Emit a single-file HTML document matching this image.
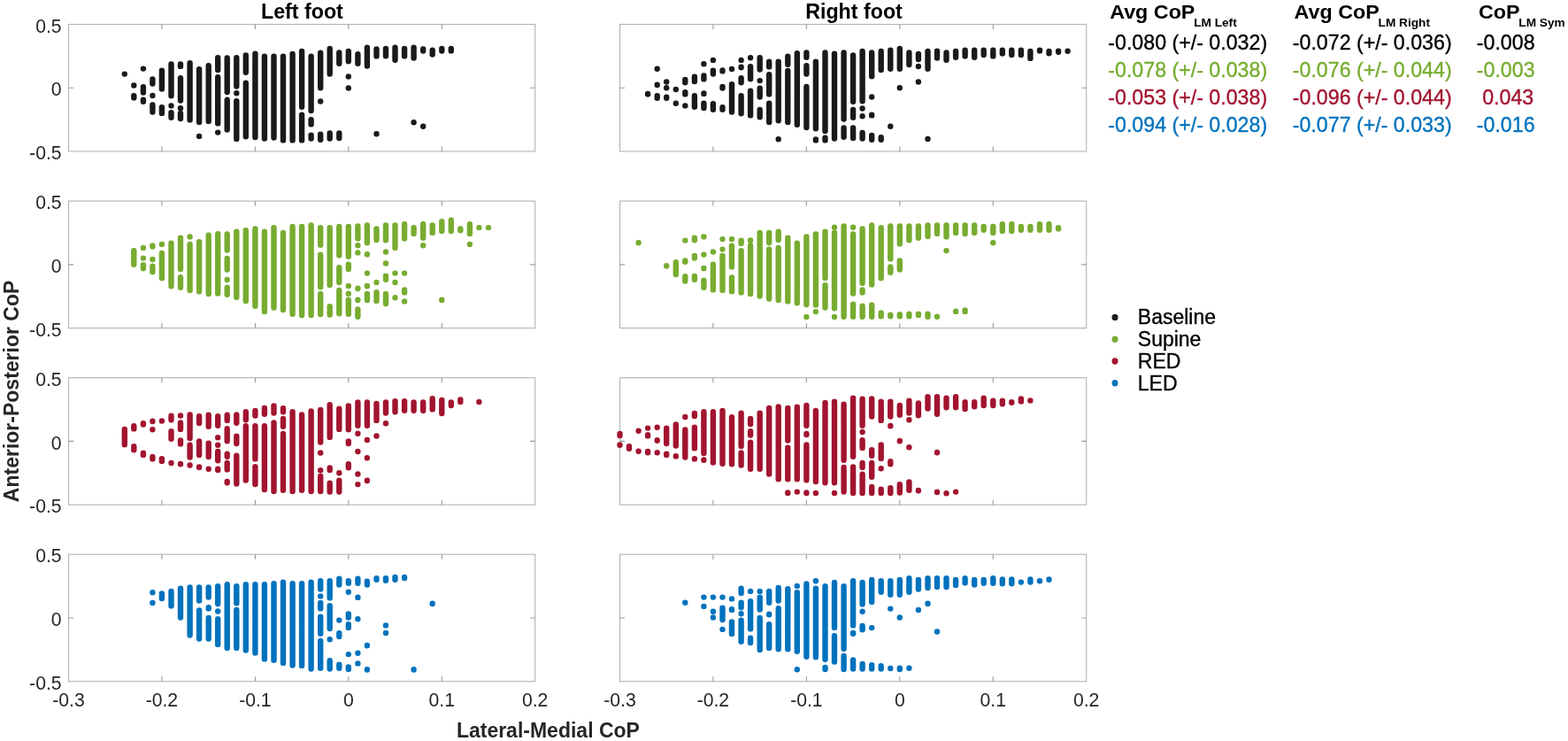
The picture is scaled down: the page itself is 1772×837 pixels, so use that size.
<!DOCTYPE html><html><head><meta charset="utf-8"><title>CoP scatter</title><style>html,body{margin:0;padding:0;background:#fff;overflow:hidden}svg{display:block}</style></head><body><svg width="1772" height="837" viewBox="0 0 1772 837" font-family="'Liberation Sans', Arial, Helvetica, sans-serif">
<rect width="1772" height="837" fill="#fff"/>
<rect x="77.5" y="27.5" width="527.2" height="143.5" fill="none" stroke="#b3b3b3" stroke-width="1.1"/>
<path d="M182.9 171.0v-5.5M182.9 27.5v5.5M288.4 171.0v-5.5M288.4 27.5v5.5M393.8 171.0v-5.5M393.8 27.5v5.5M499.3 171.0v-5.5M499.3 27.5v5.5M77.5 99.2h5.5M604.7 99.2h-5.5" stroke="#999" stroke-width="1.1" fill="none"/>
<rect x="700.5" y="27.5" width="527.2" height="143.5" fill="none" stroke="#b3b3b3" stroke-width="1.1"/>
<path d="M805.9 171.0v-5.5M805.9 27.5v5.5M911.4 171.0v-5.5M911.4 27.5v5.5M1016.8 171.0v-5.5M1016.8 27.5v5.5M1122.3 171.0v-5.5M1122.3 27.5v5.5M700.5 99.2h5.5M1227.7 99.2h-5.5" stroke="#999" stroke-width="1.1" fill="none"/>
<rect x="77.5" y="227.1" width="527.2" height="143.5" fill="none" stroke="#b3b3b3" stroke-width="1.1"/>
<path d="M182.9 370.6v-5.5M182.9 227.1v5.5M288.4 370.6v-5.5M288.4 227.1v5.5M393.8 370.6v-5.5M393.8 227.1v5.5M499.3 370.6v-5.5M499.3 227.1v5.5M77.5 298.9h5.5M604.7 298.9h-5.5" stroke="#999" stroke-width="1.1" fill="none"/>
<rect x="700.5" y="227.1" width="527.2" height="143.5" fill="none" stroke="#b3b3b3" stroke-width="1.1"/>
<path d="M805.9 370.6v-5.5M805.9 227.1v5.5M911.4 370.6v-5.5M911.4 227.1v5.5M1016.8 370.6v-5.5M1016.8 227.1v5.5M1122.3 370.6v-5.5M1122.3 227.1v5.5M700.5 298.9h5.5M1227.7 298.9h-5.5" stroke="#999" stroke-width="1.1" fill="none"/>
<rect x="77.5" y="426.7" width="527.2" height="143.5" fill="none" stroke="#b3b3b3" stroke-width="1.1"/>
<path d="M182.9 570.2v-5.5M182.9 426.7v5.5M288.4 570.2v-5.5M288.4 426.7v5.5M393.8 570.2v-5.5M393.8 426.7v5.5M499.3 570.2v-5.5M499.3 426.7v5.5M77.5 498.4h5.5M604.7 498.4h-5.5" stroke="#999" stroke-width="1.1" fill="none"/>
<rect x="700.5" y="426.7" width="527.2" height="143.5" fill="none" stroke="#b3b3b3" stroke-width="1.1"/>
<path d="M805.9 570.2v-5.5M805.9 426.7v5.5M911.4 570.2v-5.5M911.4 426.7v5.5M1016.8 570.2v-5.5M1016.8 426.7v5.5M1122.3 570.2v-5.5M1122.3 426.7v5.5M700.5 498.4h5.5M1227.7 498.4h-5.5" stroke="#999" stroke-width="1.1" fill="none"/>
<rect x="77.5" y="626.2" width="527.2" height="143.5" fill="none" stroke="#b3b3b3" stroke-width="1.1"/>
<path d="M182.9 769.7v-5.5M182.9 626.2v5.5M288.4 769.7v-5.5M288.4 626.2v5.5M393.8 769.7v-5.5M393.8 626.2v5.5M499.3 769.7v-5.5M499.3 626.2v5.5M77.5 698.0h5.5M604.7 698.0h-5.5" stroke="#999" stroke-width="1.1" fill="none"/>
<rect x="700.5" y="626.2" width="527.2" height="143.5" fill="none" stroke="#b3b3b3" stroke-width="1.1"/>
<path d="M805.9 769.7v-5.5M805.9 626.2v5.5M911.4 769.7v-5.5M911.4 626.2v5.5M1016.8 769.7v-5.5M1016.8 626.2v5.5M1122.3 769.7v-5.5M1122.3 626.2v5.5M700.5 698.0h5.5M1227.7 698.0h-5.5" stroke="#999" stroke-width="1.1" fill="none"/>
<path d="M140.8 83.6v0.01M151.3 96.5v0.01M151.3 108.2V110.4M161.9 77.6v0.01M161.9 98.3V104.6M161.9 112.8V114.8M172.4 89.5V94.6M172.4 108.0v0.01M172.4 118.5V126.5M182.9 79.7V100.5M182.9 121.2V127.9M193.5 72.5V108.2M193.5 119.4v0.01M193.5 127.1V132.7M204.0 72.5V74.9M204.0 88.1V113.6M204.0 122.3v0.01M204.0 127.9V134.0M214.6 71.1V135.4M225.1 78.2V138.1M225.1 153.9v0.01M235.7 74.1V136.9M246.2 65.2V79.0M246.2 87.2V139.4M246.2 149.6v0.01M256.7 65.4V104.1M256.7 112.8V146.5M267.3 65.2V97.5M267.3 105.3v0.01M267.3 114.1V156.9M277.8 62.5V81.7M277.8 93.8V154.2M288.4 60.7V155.1M298.9 63.6V156.6M309.5 63.6V155.5M320.0 63.6V158.4M330.6 60.9V158.4M341.1 58.0V120.7M341.1 129.7V158.4M351.6 63.6V125.0M351.6 135.2V140.4M351.6 152.6V156.6M362.2 59.8V99.3M362.2 114.4V114.5M362.2 151.7V157.8M372.7 55.0V83.5M372.7 150.4V156.6M383.3 59.4V71.8M383.3 150.4V156.0M393.8 58.0V69.2M393.8 86.5v0.01M393.8 99.4V99.6M404.4 61.2V71.8M414.9 53.7V74.5M425.5 55.5V63.4M425.5 151.3v0.01M436.0 55.0V63.3M446.5 53.7V67.7M457.1 55.0V63.4M467.6 53.7V65.6M467.6 138.2v0.01M478.2 55.5V57.5M478.2 142.7v0.01M488.7 56.8V61.6M499.3 55.0V57.5M509.8 55.0V57.5" stroke="#1a1a1a" stroke-width="6.4" stroke-linecap="round" fill="none"/>
<path d="M732.1 106.0V106.4M742.7 77.8v0.01M742.7 95.6V96.0M742.7 108.2V110.7M753.2 92.5v0.01M753.2 99.2V99.3M753.2 109.6V110.7M763.8 101.0v0.01M763.8 116.7v0.01M774.3 89.9V93.3M774.3 104.2V106.4M774.3 119.4v0.01M784.9 86.8V92.1M784.9 108.2V120.7M795.4 72.3v0.01M795.4 85.4V89.4M795.4 105.5V105.9M795.4 116.8V122.0M805.9 67.9v0.01M805.9 79.7V83.5M805.9 117.1V123.8M816.5 79.5V80.4M816.5 98.0V99.6M816.5 121.2V123.8M827.0 78.0v0.01M827.0 95.3V126.5M837.6 67.9v0.01M837.6 75.6V76.3M837.6 88.1V93.3M837.6 108.2V128.3M848.1 65.2v0.01M848.1 75.2V89.2M848.1 102.8V130.4M858.7 65.2V78.5M858.7 91.1v0.01M858.7 99.7V109.5M858.7 123.9V132.2M869.2 69.7V75.4M869.2 84.2V106.4M869.2 116.8V138.1M879.7 69.7V136.3M879.7 157.2v0.01M890.3 63.6V72.7M890.3 80.0V138.1M900.8 60.3V140.8M911.4 59.4V64.7M911.4 74.1V83.5M911.4 98.0V144.0M921.9 69.7V145.3M921.9 157.4V158.4M932.5 59.4V148.0M932.5 155.8V158.4M943.0 60.7V156.6M953.6 59.4V134.5M953.6 144.5V154.8M964.1 62.5V114.8M964.1 123.9V132.7M964.1 144.5V156.0M974.6 58.0V114.3M974.6 122.5v0.01M974.6 131.2v0.01M974.6 149.9V156.6M985.2 59.4V86.2M985.2 109.5v0.01M985.2 129.7V130.4M985.2 152.9V157.8M995.7 58.0V79.0M995.7 155.3V157.8M1006.3 56.8V77.8M1006.3 142.7v0.01M1016.8 55.0V77.8M1016.8 99.2V99.3M1027.4 59.4V73.1M1037.9 60.9V67.0M1037.9 75.0v0.01M1037.9 92.5v0.01M1048.5 58.0V77.8M1048.5 157.0v0.01M1059.0 57.6V65.6M1069.5 59.4V67.7M1080.1 58.0V64.7M1090.6 56.8V63.4M1101.2 56.8V64.7M1111.7 56.8V62.0M1122.3 56.8V63.4M1132.8 56.8V60.6M1143.3 56.8V62.0M1153.9 56.8V62.0M1164.4 58.0V65.9M1175.0 56.8V57.5M1185.5 58.0V60.2M1196.1 57.6V58.8M1206.6 57.8v0.01" stroke="#1a1a1a" stroke-width="6.4" stroke-linecap="round" fill="none"/>
<path d="M151.3 283.1V298.7M161.9 280.0v0.01M161.9 291.6v0.01M161.9 299.2V303.2M172.4 277.4V278.5M172.4 293.0v0.01M172.4 300.6V307.3M182.9 275.9V276.0M182.9 285.9V314.3M193.5 274.7V323.3M204.0 268.8V304.1M204.0 313.2V324.7M214.6 267.4v0.01M214.6 275.9V327.9M225.1 273.2V329.2M235.7 265.7V331.9M246.2 264.3V331.5M256.7 264.5V282.6M256.7 292.0V304.6M256.7 316.0v0.01M256.7 324.8V332.7M267.3 261.6V335.8M277.8 260.3V339.9M288.4 258.5V345.8M298.9 261.6V351.9M309.5 257.3V347.6M320.0 263.0V350.1M330.6 255.9V354.8M341.1 255.9V356.0M351.6 254.4V356.0M362.2 257.3V276.7M362.2 287.7V324.3M362.2 332.0V355.1M372.7 257.3V322.0M372.7 346.3V355.5M383.3 255.9V288.5M383.3 302.1V319.0M383.3 327.9V354.2M393.8 255.9V289.8M393.8 298.8V304.1M393.8 323.0v0.01M393.8 331.7v0.01M393.8 338.6V354.8M404.4 255.5V269.5M404.4 277.2v0.01M404.4 285.4V285.6M404.4 325.7V326.1M404.4 338.6V339.0M404.4 349.4V357.8M414.9 254.4V274.2M414.9 287.2V287.4M414.9 308.6v0.01M414.9 323.0V323.3M414.9 332.0V339.0M425.5 258.5V271.0M425.5 318.9V319.0M425.5 330.2V339.9M436.0 254.4V271.3M436.0 284.5v0.01M436.0 297.4V297.5M436.0 311.7V315.7M436.0 332.0V343.0M446.5 254.4V279.9M446.5 308.6v0.01M446.5 318.9V319.0M446.5 336.1V336.3M457.1 253.2V269.5M457.1 308.6v0.01M457.1 327.5V330.4M457.1 340.4v0.01M467.6 257.3V264.1M478.2 253.2V268.8M478.2 277.3v0.01M488.7 254.4V262.9M499.3 250.1V261.1M499.3 338.6V339.0M509.8 248.7V261.1M520.3 258.5V260.2M530.9 253.2V264.1M530.9 275.9V276.0M541.4 257.1v0.01M552.0 257.1v0.01" stroke="#77ac30" stroke-width="6.4" stroke-linecap="round" fill="none"/>
<path d="M721.6 274.1V274.2M753.2 300.3V300.5M763.8 296.2V310.0M774.3 271.6v0.01M774.3 294.4V295.7M774.3 312.3V317.5M784.9 268.8V271.3M784.9 289.0V291.6M784.9 311.9V315.7M795.4 267.4v0.01M795.4 287.6v0.01M795.4 303.0V303.2M795.4 316.8V324.7M805.9 284.5v0.01M805.9 298.8V327.4M816.5 270.1v0.01M816.5 281.6v0.01M816.5 289.0V327.9M827.0 270.1v0.01M827.0 277.7V301.4M827.0 313.5V329.2M837.6 271.6V274.9M837.6 283.1V330.4M848.1 271.5v0.01M848.1 277.4V331.9M858.7 263.0V334.5M869.2 263.0V274.2M869.2 281.8V337.6M879.7 261.6V271.0M879.7 280.0V339.0M890.3 268.8V340.4M900.8 274.7V342.2M911.4 267.5V344.0M911.4 357.9v0.01M921.9 264.5V344.4M921.9 352.1v0.01M932.5 261.6V313.9M932.5 322.1V347.6M943.0 256.8v0.01M943.0 263.0V348.3M943.0 357.9v0.01M953.6 255.5V357.8M964.1 256.8v0.01M964.1 264.5V331.5M964.1 343.6V357.8M974.6 258.5V319.7M974.6 327.5V330.4M974.6 345.8V357.8M985.2 254.4V321.5M985.2 344.5V357.8M995.7 257.3V314.3M995.7 353.5V357.3M1006.3 255.5V292.4M1006.3 301.5V307.7M1006.3 355.8V357.3M1016.8 255.5V275.4M1016.8 294.4V304.6M1016.8 355.3V357.3M1027.4 255.5V271.3M1027.4 354.7V357.3M1037.9 255.5V268.8M1037.9 354.7V356.0M1048.5 254.4V267.0M1048.5 354.7V357.8M1059.0 254.4V264.1M1059.0 357.6V357.8M1069.5 254.4V267.4M1069.5 283.1v0.01M1080.1 254.4V262.9M1080.1 351.7V351.9M1090.6 254.4V264.1M1090.6 350.4V351.9M1101.2 254.4V262.9M1111.7 255.9V259.8M1122.3 255.9V262.9M1122.3 274.1V274.2M1132.8 253.2V261.1M1143.3 253.2V261.1M1153.9 255.9V259.8M1164.4 255.9V259.8M1175.0 253.2V259.8M1185.5 253.2V259.8M1196.1 257.3V258.4" stroke="#77ac30" stroke-width="6.4" stroke-linecap="round" fill="none"/>
<path d="M140.8 484.9V502.3M151.3 481.3V484.4M151.3 504.2V508.2M161.9 478.2V479.5M161.9 511.7V513.9M172.4 475.6V476.0M172.4 485.3v0.01M172.4 515.9V518.4M182.9 475.5v0.01M182.9 518.2V521.1M193.5 469.8V474.2M193.5 487.2V495.7M193.5 523.0v0.01M204.0 469.5v0.01M204.0 477.4V484.9M204.0 497.4V501.4M204.0 523.9V524.3M214.6 468.4V495.1M214.6 502.8V516.6M214.6 525.4V525.6M225.1 470.2V478.1M225.1 498.5V513.9M225.1 527.5V527.9M235.7 468.8V481.7M235.7 500.6V516.1M235.7 529.7v0.01M246.2 470.2V480.8M246.2 494.3v0.01M246.2 502.8v0.01M246.2 510.0V520.2M246.2 529.7V531.0M256.7 468.8V474.9M256.7 484.2V498.2M256.7 512.8V515.7M256.7 523.0V530.4M256.7 544.0V545.3M267.3 468.4V477.8M267.3 492.6V501.0M267.3 514.6V546.5M277.8 465.2V474.2M277.8 481.3V542.6M288.4 463.9V469.5M288.4 481.3V518.4M288.4 527.1V547.1M298.9 460.9V467.7M298.9 481.3V553.0M309.5 458.5V466.5M309.5 477.4V555.1M320.0 461.2V465.2M320.0 472.9V481.7M320.0 489.9V553.7M330.6 465.2V555.1M341.1 468.4V553.7M351.6 464.5V555.1M362.2 463.0V499.6M362.2 511.5v0.01M362.2 531.2v0.01M362.2 537.9V555.1M372.7 457.3V493.9M372.7 528.4V531.0M372.7 545.8V555.5M383.3 461.6V484.9M383.3 534.2v0.01M383.3 542.7V555.5M393.8 458.5V485.3M393.8 498.5V501.0M393.8 524.3V528.3M404.4 454.4V480.8M404.4 489.8v0.01M404.4 510.0v0.01M404.4 535.5v0.01M404.4 547.1v0.01M414.9 454.4V480.8M414.9 497.0v0.01M414.9 517.1V517.2M414.9 542.7V543.0M425.5 455.9V474.9M425.5 492.5v0.01M436.0 454.4V466.5M436.0 478.2v0.01M446.5 453.2V465.2M457.1 453.2V463.8M467.6 454.4V463.8M478.2 454.4V463.8M488.7 450.1V462.4M499.3 451.9V467.0M509.8 454.4V458.1M520.3 451.4V453.9M541.4 454.0v0.01" stroke="#a2142f" stroke-width="6.4" stroke-linecap="round" fill="none"/>
<path d="M700.5 489.9V492.1M700.5 502.4V502.8M711.0 504.2V506.8M721.6 486.7v0.01M721.6 509.7v0.01M732.1 483.6v0.01M732.1 491.3V492.4M732.1 510.0V511.3M742.7 482.7v0.01M742.7 497.1V497.8M742.7 511.3v0.01M753.2 483.6V501.0M753.2 512.8V513.9M763.8 479.5V503.6M763.8 515.3V515.4M774.3 471.0v0.01M774.3 485.4V516.6M784.9 467.0V470.1M784.9 482.7V506.4M784.9 518.2V518.4M795.4 465.2V512.1M795.4 519.4V519.7M805.9 465.2V522.5M816.5 463.9V523.8M827.0 471.1V524.3M837.6 466.6V504.1M837.6 511.4V525.6M848.1 472.9V479.0M848.1 487.2V491.6M848.1 499.7V529.7M858.7 466.6V529.7M869.2 460.9V535.4M879.7 459.4V541.2M890.3 460.9V497.5M890.3 505.7V541.2M890.3 556.5V556.9M900.8 459.8V541.2M900.8 555.6v0.01M911.4 458.0V480.8M911.4 489.9V491.0M911.4 502.4V542.2M911.4 556.5V556.9M921.9 463.9V544.0M921.9 557.0v0.01M932.5 455.0V545.3M943.0 453.7V545.3M943.0 557.0v0.01M953.6 456.8V519.7M953.6 527.9V555.5M964.1 449.6V515.7M964.1 527.5V556.9M974.6 450.8V480.8M974.6 488.0v0.01M974.6 497.1V505.9M974.6 523.0V527.9M974.6 535.6V556.9M985.2 450.5V470.6M985.2 508.2V514.8M985.2 523.0V538.7M985.2 549.9V556.9M995.7 453.7V474.9M995.7 502.4V517.9M995.7 529.2v0.01M995.7 552.6V556.9M1006.3 453.7V470.6M1006.3 480.9V481.3M1006.3 521.2V524.3M1006.3 551.1V556.9M1016.8 458.0V468.8M1016.8 498.0V498.2M1016.8 547.2V556.6M1027.4 452.6V466.5M1027.4 474.1V474.2M1027.4 505.1V505.3M1027.4 544.5V553.7M1037.9 455.5V469.2M1037.9 554.0V554.2M1048.5 448.3V461.6M1059.0 448.3V467.7M1059.0 511.0V511.3M1059.0 555.8V556.0M1069.5 449.6V460.2M1069.5 557.1V557.3M1080.1 448.3V460.2M1080.1 555.6v0.01M1090.6 454.1V462.0M1101.2 454.1V459.3M1111.7 449.6V458.1M1122.3 452.6V458.1M1132.8 452.6V456.3M1143.3 454.1V454.8M1153.9 450.5V453.4M1164.4 452.4v0.01" stroke="#a2142f" stroke-width="6.4" stroke-linecap="round" fill="none"/>
<path d="M172.4 669.2v0.01M172.4 680.9v0.01M182.9 670.5V676.0M193.5 668.0V684.4M204.0 664.8V697.5M214.6 663.4V717.5M225.1 663.4V678.5M225.1 689.5V721.5M235.7 663.4V674.5M235.7 686.3V687.4M235.7 698.0V721.5M246.2 662.1V682.1M246.2 690.5v0.01M246.2 699.2V727.9M256.7 660.3V731.9M267.3 662.1V681.3M267.3 689.0V731.9M277.8 660.3V734.5M288.4 660.3V737.6M298.9 660.3V744.4M309.5 659.1V745.8M320.0 657.6V748.9M330.6 659.1V751.6M341.1 659.1V751.9M351.6 657.6V755.5M362.2 656.2V665.6M362.2 673.4v0.01M362.2 680.9V687.4M362.2 696.7V715.7M362.2 723.9V754.8M372.7 656.2V675.4M372.7 684.2V710.0M372.7 722.2v0.01M372.7 746.3V755.5M383.3 653.7V660.6M383.3 700.6v0.01M383.3 715.3V719.0M383.3 750.8V754.8M393.8 656.2V658.8M393.8 668.8v0.01M393.8 693.5V697.5M393.8 705.1V708.9M393.8 739.1v0.01M393.8 753.5V756.0M404.4 653.7V658.8M404.4 674.7V674.9M404.4 699.2V699.3M404.4 737.7v0.01M404.4 749.4v0.01M414.9 656.8V660.6M414.9 728.9V729.2M414.9 756.2V756.6M425.5 653.2V654.8M436.0 653.2V655.7M436.0 706.4v0.01M436.0 714.9v0.01M446.5 651.9V654.8M457.1 651.9V653.0M467.6 756.2V756.6M488.7 681.8V682.1" stroke="#0072bd" stroke-width="6.4" stroke-linecap="round" fill="none"/>
<path d="M774.3 680.6V680.8M795.4 674.6v0.01M795.4 684.9v0.01M805.9 674.6v0.01M805.9 690.7v0.01M805.9 697.4V697.5M816.5 674.6v0.01M816.5 686.7V700.0M816.5 710.9v0.01M827.0 676.4v0.01M827.0 688.1V688.9M827.0 702.4V716.1M837.6 664.8V670.1M837.6 680.6V686.2M837.6 693.3v0.01M837.6 700.6V724.7M848.1 667.9v0.01M848.1 679.1V710.4M848.1 720.7V726.1M858.7 667.9v0.01M858.7 674.7V688.5M858.7 698.0V734.0M869.2 668.0V680.8M869.2 693.8V694.2M869.2 705.1V731.9M879.7 663.9V678.5M879.7 687.2V733.3M890.3 665.2V733.3M900.8 661.9v0.01M900.8 669.3V735.8M900.8 756.3v0.01M911.4 659.4V741.7M921.9 656.2V656.3M921.9 664.8V742.2M932.5 662.1V744.7M932.5 754.0V756.0M943.0 658.0V708.9M943.0 718.2V747.6M953.6 662.1V732.7M953.6 740.9V756.0M964.1 656.2V706.4M964.1 715.0V715.7M964.1 745.4V755.5M974.6 658.0V682.6M974.6 690.8v0.01M974.6 706.9V711.3M974.6 749.9V755.5M985.2 655.0V679.9M985.2 709.1v0.01M985.2 751.1V755.5M995.7 656.2V668.8M995.7 752.2V755.5M1006.3 656.2V671.8M1006.3 687.6v0.01M1006.3 755.0v0.01M1016.8 655.0V671.8M1016.8 697.4V697.5M1016.8 754.7V756.0M1027.4 653.2V668.8M1027.4 754.7V754.8M1037.9 655.0V665.6M1037.9 688.9v0.01M1048.5 653.2V664.1M1048.5 681.8V682.1M1059.0 653.2V662.9M1059.0 713.5V713.6M1069.5 653.2V662.9M1080.1 655.0V661.1M1090.6 653.2V658.4M1101.2 655.0V660.6M1111.7 655.0V658.8M1122.3 653.2V658.8M1132.8 654.4V659.3M1143.3 654.4V659.3M1153.9 657.6v0.01M1164.4 654.4V657.5M1175.0 656.2V656.3M1185.5 654.4V654.8" stroke="#0072bd" stroke-width="6.4" stroke-linecap="round" fill="none"/>
<text x="69.6" y="36.6" font-size="21.2" fill="#262626" text-anchor="end">0.5</text>
<text x="69.6" y="108.3" font-size="21.2" fill="#262626" text-anchor="end">0</text>
<text x="69.6" y="180.1" font-size="21.2" fill="#262626" text-anchor="end">-0.5</text>
<text x="69.6" y="236.2" font-size="21.2" fill="#262626" text-anchor="end">0.5</text>
<text x="69.6" y="308.0" font-size="21.2" fill="#262626" text-anchor="end">0</text>
<text x="69.6" y="379.7" font-size="21.2" fill="#262626" text-anchor="end">-0.5</text>
<text x="69.6" y="435.8" font-size="21.2" fill="#262626" text-anchor="end">0.5</text>
<text x="69.6" y="507.6" font-size="21.2" fill="#262626" text-anchor="end">0</text>
<text x="69.6" y="579.3" font-size="21.2" fill="#262626" text-anchor="end">-0.5</text>
<text x="69.6" y="635.3" font-size="21.2" fill="#262626" text-anchor="end">0.5</text>
<text x="69.6" y="707.1" font-size="21.2" fill="#262626" text-anchor="end">0</text>
<text x="69.6" y="778.8" font-size="21.2" fill="#262626" text-anchor="end">-0.5</text>
<text x="77.5" y="797.8" font-size="21.2" fill="#262626" text-anchor="middle">-0.3</text>
<text x="182.9" y="797.8" font-size="21.2" fill="#262626" text-anchor="middle">-0.2</text>
<text x="288.4" y="797.8" font-size="21.2" fill="#262626" text-anchor="middle">-0.1</text>
<text x="393.8" y="797.8" font-size="21.2" fill="#262626" text-anchor="middle">0</text>
<text x="499.3" y="797.8" font-size="21.2" fill="#262626" text-anchor="middle">0.1</text>
<text x="604.7" y="797.8" font-size="21.2" fill="#262626" text-anchor="middle">0.2</text>
<text x="700.5" y="797.8" font-size="21.2" fill="#262626" text-anchor="middle">-0.3</text>
<text x="805.9" y="797.8" font-size="21.2" fill="#262626" text-anchor="middle">-0.2</text>
<text x="911.4" y="797.8" font-size="21.2" fill="#262626" text-anchor="middle">-0.1</text>
<text x="1016.8" y="797.8" font-size="21.2" fill="#262626" text-anchor="middle">0</text>
<text x="1122.3" y="797.8" font-size="21.2" fill="#262626" text-anchor="middle">0.1</text>
<text x="1227.7" y="797.8" font-size="21.2" fill="#262626" text-anchor="middle">0.2</text>
<text transform="translate(341.4 20.6) scale(1.01 1)" font-size="23" fill="#000" font-weight="bold" text-anchor="middle">Left foot</text>
<text transform="translate(965.0 20.6) scale(1.01 1)" font-size="23" fill="#000" font-weight="bold" text-anchor="middle">Right foot</text>
<text x="619.4" y="833.0" font-size="23" fill="#262626" font-weight="bold" text-anchor="middle">Lateral-Medial CoP</text>
<text transform="translate(20.8 441.9) rotate(-90)" font-size="23" font-weight="bold" fill="#262626" text-anchor="middle">Anterior-Posterior CoP</text>
<text transform="translate(1254.2 21.4) scale(1.036 1)" font-size="22.5" font-weight="bold" fill="#000">Avg CoP<tspan font-size="13.2" dx="-1.2" dy="8.2">LM Left</tspan></text>
<text transform="translate(1462.6 21.4) scale(1.036 1)" font-size="22.5" font-weight="bold" fill="#000">Avg CoP<tspan font-size="13.2" dx="-1.2" dy="8.2">LM Right</tspan></text>
<text transform="translate(1671.0 21.4) scale(1.036 1)" font-size="22.5" font-weight="bold" fill="#000">CoP<tspan font-size="13.2" dx="-1.2" dy="8.2">LM Sym</tspan></text>
<text x="1252.3" y="56.1" font-size="23.2" fill="#000" stroke="#000" stroke-width="0.35">-0.080 (+/- 0.032)</text>
<text x="1460.8" y="56.1" font-size="23.2" fill="#000" stroke="#000" stroke-width="0.35">-0.072 (+/- 0.036)</text>
<text x="1668.8" y="56.1" font-size="23.2" fill="#000" stroke="#000" stroke-width="0.35">-0.008</text>
<text x="1252.3" y="86.9" font-size="23.2" fill="#77ac30" stroke="#77ac30" stroke-width="0.35">-0.078 (+/- 0.038)</text>
<text x="1460.8" y="86.9" font-size="23.2" fill="#77ac30" stroke="#77ac30" stroke-width="0.35">-0.076 (+/- 0.044)</text>
<text x="1668.8" y="86.9" font-size="23.2" fill="#77ac30" stroke="#77ac30" stroke-width="0.35">-0.003</text>
<text x="1252.3" y="117.7" font-size="23.2" fill="#a2142f" stroke="#a2142f" stroke-width="0.35">-0.053 (+/- 0.038)</text>
<text x="1460.8" y="117.7" font-size="23.2" fill="#a2142f" stroke="#a2142f" stroke-width="0.35">-0.096 (+/- 0.044)</text>
<text x="1675.2" y="117.7" font-size="23.2" fill="#a2142f" stroke="#a2142f" stroke-width="0.35">0.043</text>
<text x="1252.3" y="148.5" font-size="23.2" fill="#0072bd" stroke="#0072bd" stroke-width="0.35">-0.094 (+/- 0.028)</text>
<text x="1460.8" y="148.5" font-size="23.2" fill="#0072bd" stroke="#0072bd" stroke-width="0.35">-0.077 (+/- 0.033)</text>
<text x="1668.8" y="148.5" font-size="23.2" fill="#0072bd" stroke="#0072bd" stroke-width="0.35">-0.016</text>
<ellipse cx="1260" cy="358.4" rx="3.5" ry="3.7" fill="#1a1a1a"/>
<text x="1285.8" y="366.3" font-size="23" fill="#000" stroke="#000" stroke-width="0.35">Baseline</text>
<ellipse cx="1260" cy="383.2" rx="3.5" ry="3.7" fill="#77ac30"/>
<text x="1285.8" y="391.1" font-size="23" fill="#000" stroke="#000" stroke-width="0.35">Supine</text>
<ellipse cx="1260" cy="408.0" rx="3.5" ry="3.7" fill="#a2142f"/>
<text x="1285.8" y="415.9" font-size="23" fill="#000" stroke="#000" stroke-width="0.35">RED</text>
<ellipse cx="1260" cy="432.8" rx="3.5" ry="3.7" fill="#0072bd"/>
<text x="1285.8" y="440.7" font-size="23" fill="#000" stroke="#000" stroke-width="0.35">LED</text>
</svg></body></html>
